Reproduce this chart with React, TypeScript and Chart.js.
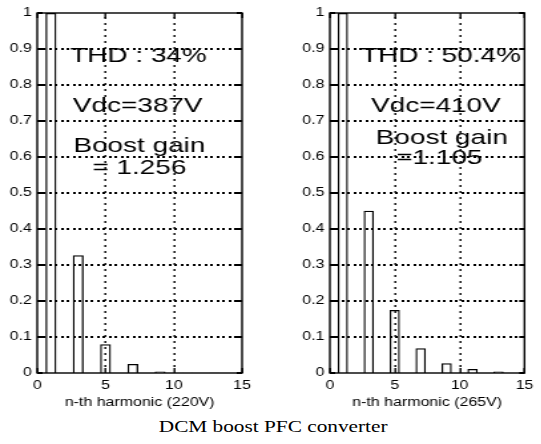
import React, { useEffect, useRef } from "react";
import { Chart, registerables } from "chart.js";

Chart.register(...registerables);

// ---- data ----
const harmonics = [1, 3, 5, 7, 9, 11, 13];
const values220 = [1, 0.327, 0.08, 0.025, 0.004, 0.001, 0.0005];
const values265 = [1, 0.451, 0.175, 0.069, 0.027, 0.011, 0.004];
const xTickValues = [0, 5, 10, 15];
const yTickValues = [0, 0.1, 0.2, 0.3, 0.4, 0.5, 0.6, 0.7, 0.8, 0.9, 1];
const xTitle220 = "n-th harmonic (220V)";
const xTitle265 = "n-th harmonic (265V)";
const notes220 = ["THD : 34%", "Vdc=387V", "Boost gain", "= 1.256"];
const notes220X = [7.41, 7.36, 7.48, 7.48];
const notes220Y = [0.879, 0.74, 0.631, 0.57];
const notes265 = ["THD : 50.4%", "Vdc=410V", "Boost gain", "=1.105"];
const notes265X = [8.56, 8.17, 8.63, 8.44];
const notes265Y = [0.879, 0.742, 0.653, 0.597];
const caption = "DCM boost PFC converter";

const STRETCH = 1.33;
const SANS = "'Liberation Sans', Arial, Helvetica, sans-serif";

const framePlugin = {
  id: "frameAndNotes",
  beforeDatasetsDraw(chart: any) {
    const { ctx, chartArea } = chart;
    const xs = chart.scales.x;
    const ys = chart.scales.y;
    ctx.save();
    ctx.fillStyle = "#000";
    yTickValues.forEach((v) => {
      if (v <= 0 || v >= 1) return;
      const py = Math.round(ys.getPixelForValue(v));
      for (let x = chartArea.left + 4; x < chartArea.right - 2; x += 4.5) {
        ctx.fillRect(Math.round(x), py - 1, 2, 2);
      }
    });
    xTickValues.forEach((v) => {
      if (v <= 0 || v >= 15) return;
      const px = Math.round(xs.getPixelForValue(v));
      for (let y = chartArea.top + 4; y < chartArea.bottom - 2; y += 6) {
        ctx.fillRect(px - 0.5, Math.round(y), 1.4, 2);
      }
    });
    ctx.restore();
  },
  afterDraw(chart: any, _args: any, opts: any) {
    const { ctx, chartArea } = chart;
    const xs = chart.scales.x;
    const ys = chart.scales.y;
    ctx.save();
    ctx.strokeStyle = "#000";
    ctx.lineWidth = 1.4;
    ctx.setLineDash([]);
    ctx.strokeRect(chartArea.left, chartArea.top, chartArea.right - chartArea.left, chartArea.bottom - chartArea.top);
    ctx.fillStyle = "#000";
    yTickValues.forEach((v) => {
      const py = Math.round(ys.getPixelForValue(v));
      ctx.fillRect(chartArea.left, py - 1, 4, 2);
      ctx.fillRect(chartArea.right - 4, py - 1, 4, 2);
    });
    xTickValues.forEach((v) => {
      const px = Math.round(xs.getPixelForValue(v));
      ctx.fillRect(px - 0.5, chartArea.bottom - 5, 1.4, 5);
      ctx.fillRect(px - 0.5, chartArea.top, 1.4, 5);
    });
    const texts: string[] = opts.texts || [];
    ctx.fillStyle = "#000";
    ctx.font = `21px ${SANS}`;
    ctx.textAlign = "center";
    ctx.textBaseline = "middle";
    texts.forEach((t, i) => {
      ctx.fillText(t, xs.getPixelForValue(opts.xs[i]), ys.getPixelForValue(opts.ys[i]));
    });
    ctx.restore();
  },
};

type Props = {
  values: number[];
  title: string;
  notes: string[];
  nx: number[];
  ny: number[];
  left: number;
  width: number;
  padRight: number;
};

function HarmonicChart({ values, title, notes, nx, ny, left, width, padRight }: Props) {
  const ref = useRef<HTMLCanvasElement | null>(null);
  useEffect(() => {
    if (!ref.current) return;
    const chart = new Chart(ref.current, {
      type: "bar",
      data: {
        datasets: [
          {
            data: harmonics.map((h, i) => ({ x: h, y: values[i] })),
            backgroundColor: "rgba(255,255,255,0)",
            borderColor: "#000",
            borderWidth: 1.3,
            barPercentage: 0.4,
            categoryPercentage: 1,
          },
        ],
      },
      options: {
        animation: false,
        responsive: true,
        maintainAspectRatio: false,
        layout: { padding: { left: 0, right: padRight, top: 13, bottom: 0 } },
        plugins: {
          legend: { display: false },
          tooltip: { enabled: false },
          // @ts-ignore
          frameAndNotes: { texts: notes, xs: nx, ys: ny },
        },
        scales: {
          x: {
            type: "linear",
            min: 0,
            max: 15,
            offset: false,
            afterFit: (s: any) => {
              s.height = 42;
            },
            afterBuildTicks: (s: any) => {
              s.ticks = xTickValues.map((v) => ({ value: v }));
            },
            ticks: {
              color: "#000",
              font: { family: SANS, size: 12 },
              padding: 5,
              maxRotation: 0,
              callback: (v: any) => String(v),
            },
            grid: { display: false, drawTicks: false },
            border: { display: false },
            title: {
              display: true,
              text: title,
              color: "#000",
              font: { family: SANS, size: 12 },
              padding: { top: 0, bottom: 5 },
            },
          },
          y: {
            min: 0,
            max: 1,
            afterFit: (s: any) => {
              s.width = 28;
            },
            afterBuildTicks: (s: any) => {
              s.ticks = yTickValues.map((v) => ({ value: v }));
            },
            ticks: {
              color: "#000",
              font: { family: SANS, size: 12 },
              padding: 4,
              callback: (v: any) => String(Number(Number(v).toFixed(1))),
            },
            grid: { display: false, drawTicks: false },
            border: { display: false },
          },
        },
      },
      plugins: [framePlugin],
    });
    return () => chart.destroy();
  }, []);
  return (
    <div style={{ position: "absolute", left, top: 0, width, height: 415 }}>
      <canvas ref={ref} />
    </div>
  );
}

export default function App() {
  const innerW = 541 / STRETCH;
  return (
    <div
      style={{
        position: "absolute",
        left: 0,
        top: 0,
        width: innerW,
        height: 444,
        transform: `scaleX(${STRETCH})`,
        transformOrigin: "0 0",
        background: "#fff",
        overflow: "hidden",
      }}
    >
      <HarmonicChart
        values={values220}
        title={xTitle220}
        notes={notes220}
        nx={notes220X}
        ny={notes220Y}
        left={0}
        width={200}
        padRight={18}
      />
      <HarmonicChart
        values={values265}
        title={xTitle265}
        notes={notes265}
        nx={notes265X}
        ny={notes265Y}
        left={220}
        width={186}
        padRight={5}
      />
      <div
        style={{
          position: "absolute",
          left: 2,
          top: 418,
          width: innerW,
          textAlign: "center",
          fontFamily: "'Liberation Serif', 'Times New Roman', serif",
          fontSize: 16,
          lineHeight: "18px",
          color: "#000",
        }}
      >
        {caption}
      </div>
    </div>
  );
}
